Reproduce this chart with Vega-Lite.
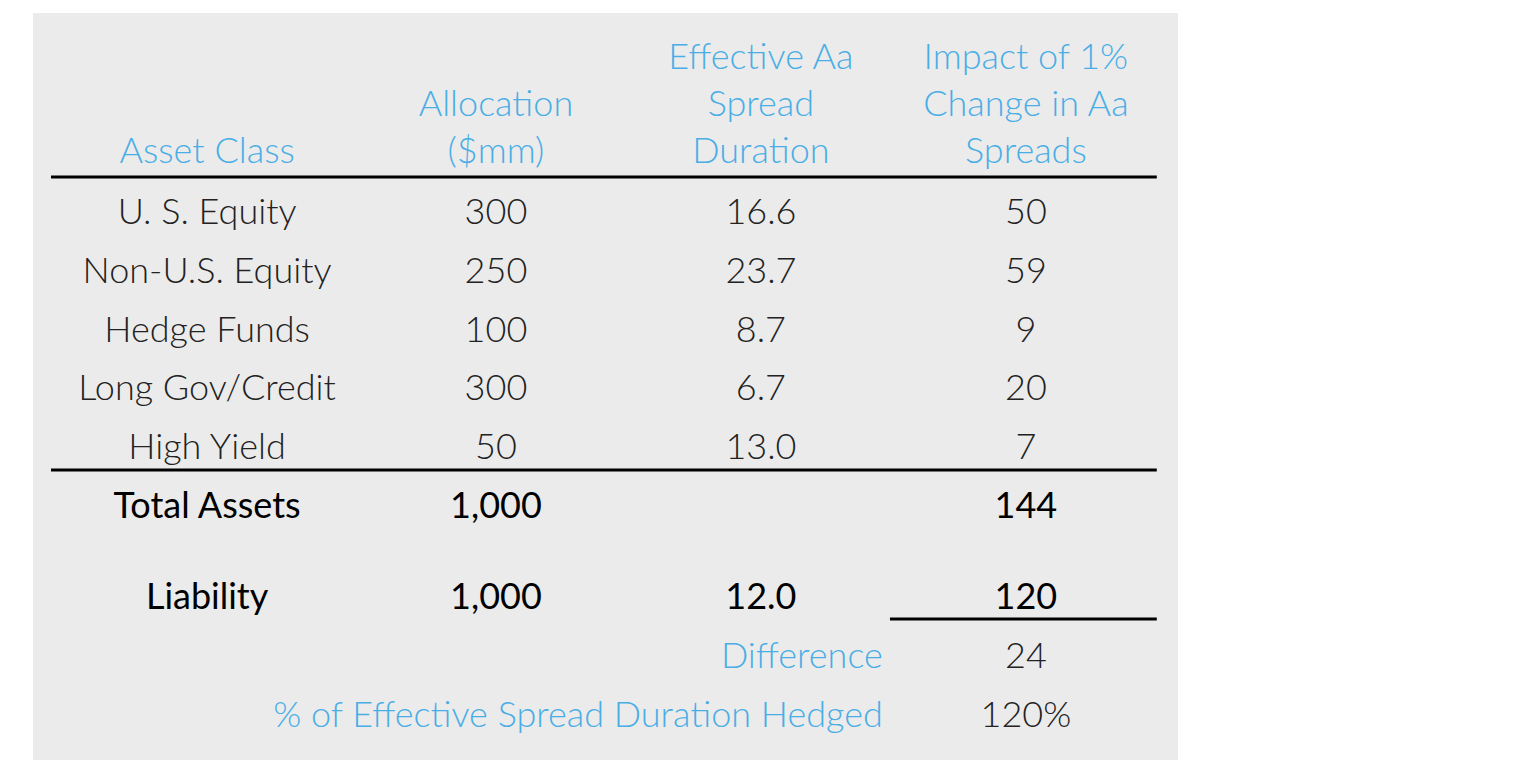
{
  "$schema": "https://vega.github.io/schema/vega-lite/v6.json",
  "autosize": "none",
  "width": 1145,
  "height": 747,
  "padding": {"left": 33, "top": 13, "right": 358, "bottom": 11},
  "background": "white",
  "view": {"fill": "#ebebeb", "stroke": null},
  "config": {"text": {"font": "Lato", "fontSize": 36, "baseline": "middle"}},
  "datasets": {
    "cells": [
      {"row": -2.636, "col": 2, "text": "Effective Aa", "kind": "h"},
      {"row": -2.636, "col": 3, "text": "Impact of 1%", "kind": "h"},
      {"row": -1.837, "col": 1, "text": "Allocation", "kind": "h"},
      {"row": -1.837, "col": 2, "text": "Spread", "kind": "h"},
      {"row": -1.837, "col": 3, "text": "Change in Aa", "kind": "h"},
      {"row": -1.037, "col": -0.09, "text": "Asset Class", "kind": "h"},
      {"row": -1.037, "col": 1, "text": "($mm)", "kind": "h"},
      {"row": -1.037, "col": 2, "text": "Duration", "kind": "h"},
      {"row": -1.037, "col": 3, "text": "Spreads", "kind": "h"},
      {"row": 0, "col": -0.09, "text": "U. S. Equity", "kind": "b"},
      {"row": 0, "col": 1, "text": "300", "kind": "b"},
      {"row": 0, "col": 2, "text": "16.6", "kind": "b"},
      {"row": 0, "col": 3, "text": "50", "kind": "b"},
      {"row": 1, "col": -0.09, "text": "Non-U.S. Equity", "kind": "b"},
      {"row": 1, "col": 1, "text": "250", "kind": "b"},
      {"row": 1, "col": 2, "text": "23.7", "kind": "b"},
      {"row": 1, "col": 3, "text": "59", "kind": "b"},
      {"row": 2, "col": -0.09, "text": "Hedge Funds", "kind": "b"},
      {"row": 2, "col": 1, "text": "100", "kind": "b"},
      {"row": 2, "col": 2, "text": "8.7", "kind": "b"},
      {"row": 2, "col": 3, "text": "9", "kind": "b"},
      {"row": 3, "col": -0.09, "text": "Long Gov/Credit", "kind": "b"},
      {"row": 3, "col": 1, "text": "300", "kind": "b"},
      {"row": 3, "col": 2, "text": "6.7", "kind": "b"},
      {"row": 3, "col": 3, "text": "20", "kind": "b"},
      {"row": 4, "col": -0.09, "text": "High Yield", "kind": "b"},
      {"row": 4, "col": 1, "text": "50", "kind": "b"},
      {"row": 4, "col": 2, "text": "13.0", "kind": "b"},
      {"row": 4, "col": 3, "text": "7", "kind": "b"},
      {"row": 5, "col": -0.09, "text": "Total Assets", "kind": "t"},
      {"row": 5, "col": 1, "text": "1,000", "kind": "t"},
      {"row": 5, "col": 3, "text": "144", "kind": "t"},
      {"row": 6.55, "col": -0.09, "text": "Liability", "kind": "t"},
      {"row": 6.55, "col": 1, "text": "1,000", "kind": "t"},
      {"row": 6.55, "col": 2, "text": "12.0", "kind": "t"},
      {"row": 6.55, "col": 3, "text": "120", "kind": "t"},
      {"row": 7.55, "col": 2.46, "text": "Difference", "kind": "l"},
      {"row": 7.55, "col": 3, "text": "24", "kind": "b"},
      {"row": 8.55, "col": 2.46, "text": "% of Effective Spread Duration Hedged", "kind": "l"},
      {"row": 8.55, "col": 3, "text": "120%", "kind": "b"}
    ],
    "rules": [
      {"row": -0.578, "col": -0.679, "col2": 3.494},
      {"row": 4.405, "col": -0.679, "col2": 3.494},
      {"row": 6.939, "col": 2.487, "col2": 3.494}
    ]
  },
  "encoding": {
    "x": {"field": "col", "type": "quantitative", "axis": null, "scale": {"domain": [-0.747, 3.574], "nice": false, "zero": false}},
    "y": {"field": "row", "type": "quantitative", "axis": null, "scale": {"domain": [-3.367, 9.337], "nice": false, "zero": false, "reverse": true}}
  },
  "layer": [
    {
      "data": {"name": "rules"},
      "mark": {"type": "rule", "color": "#000000", "strokeWidth": 3},
      "encoding": {"x2": {"field": "col2"}}
    },
    {
      "data": {"name": "cells"},
      "transform": [{"filter": "datum.kind === 'h'"}],
      "mark": {"type": "text", "color": "#4aaee6", "fontWeight": 300, "align": "center", "dy": 2},
      "encoding": {"text": {"field": "text"}}
    },
    {
      "data": {"name": "cells"},
      "transform": [{"filter": "datum.kind === 'l'"}],
      "mark": {"type": "text", "color": "#4aaee6", "fontWeight": 300, "align": "right", "dy": 2},
      "encoding": {"text": {"field": "text"}}
    },
    {
      "data": {"name": "cells"},
      "transform": [{"filter": "datum.kind === 'b'"}],
      "mark": {"type": "text", "color": "#222222", "fontWeight": 300, "align": "center", "dy": 2},
      "encoding": {"text": {"field": "text"}}
    },
    {
      "data": {"name": "cells"},
      "transform": [{"filter": "datum.kind === 't'"}],
      "mark": {"type": "text", "color": "#000000", "fontWeight": 400, "align": "center", "dy": 2},
      "encoding": {"text": {"field": "text"}}
    }
  ]
}
